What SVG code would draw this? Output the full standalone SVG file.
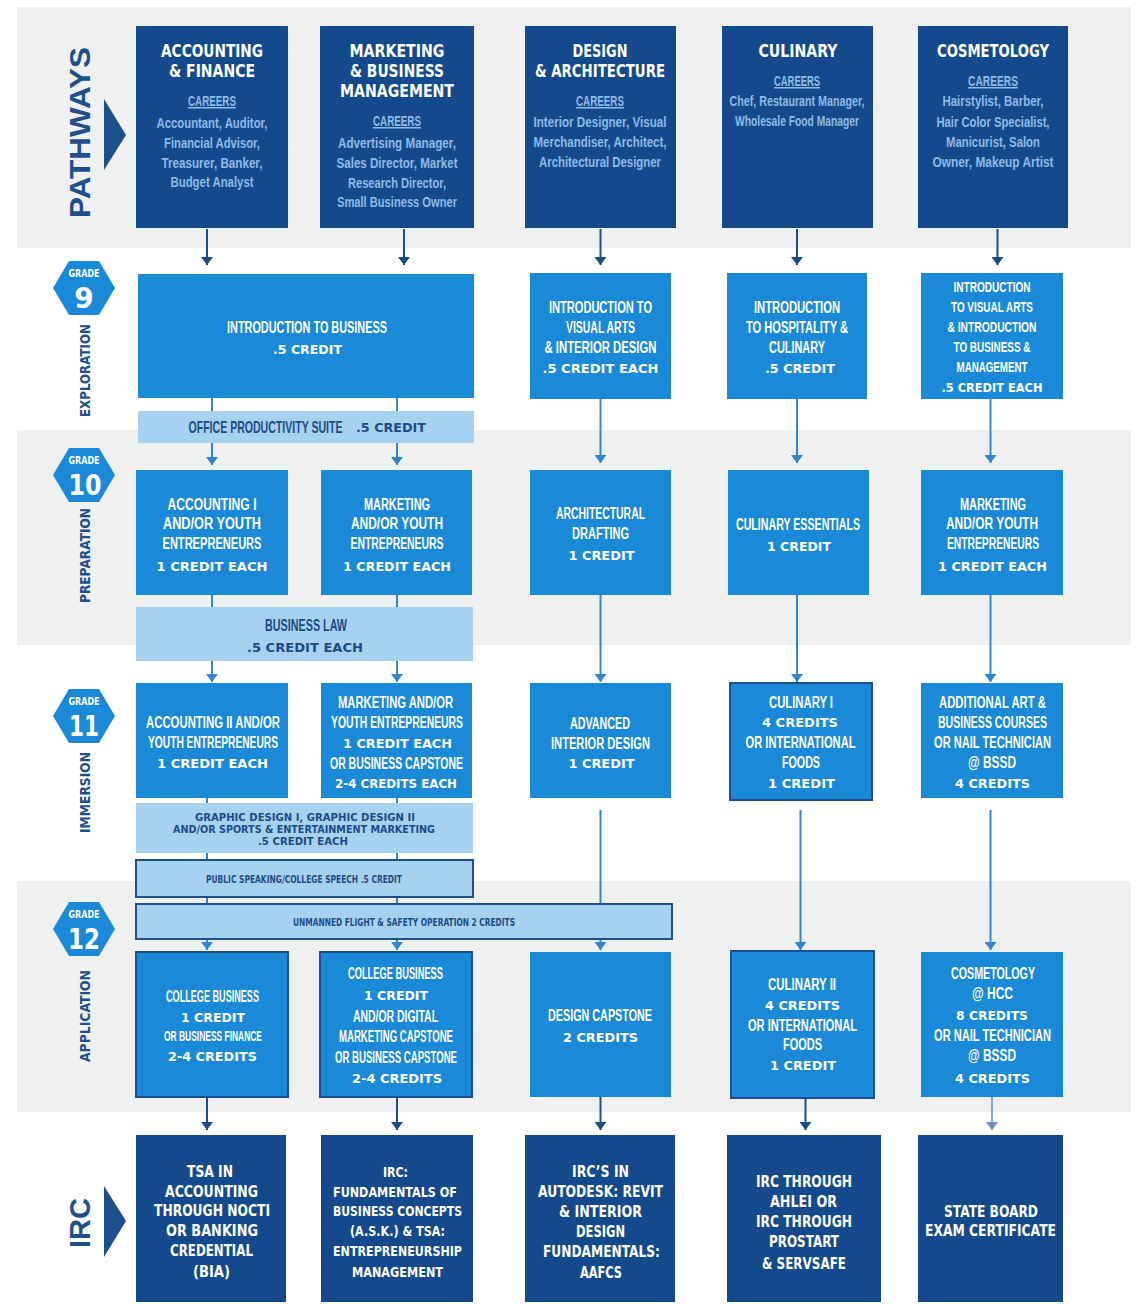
<svg xmlns="http://www.w3.org/2000/svg" width="1139" height="1304" viewBox="0 0 1139 1304">
<defs>
<style>
text{text-anchor:middle}
.band{fill:#eff1f1}
.dk{fill:#144a8b}
.md{fill:#1a8ad8}
.lt{fill:#a6d2ef}
.bd{stroke:#1d4e8e;stroke-width:2}
.t{font-family:"DejaVu Sans","Liberation Sans",sans-serif;font-weight:bold;font-size:18px;fill:#fff}
.car{font-family:"Liberation Sans",Arial,sans-serif;font-weight:bold;font-size:15px;fill:#8fbbe7;text-decoration:underline}
.cr{font-family:"Liberation Sans",Arial,sans-serif;font-weight:bold;font-size:15px;fill:#8fbbe7}
.c{font-family:"Liberation Sans",Arial,sans-serif;font-weight:bold;font-size:16px;fill:#fff}
.cs{font-family:"Liberation Sans",Arial,sans-serif;font-weight:bold;font-size:14px;fill:#fff}
.k{font-family:"DejaVu Sans","Liberation Sans",sans-serif;font-weight:bold;font-size:13px;fill:#fff}
.cd{font-family:"Liberation Sans",Arial,sans-serif;font-weight:bold;font-size:16px;fill:#1b4a88}
.kd{font-family:"DejaVu Sans","Liberation Sans",sans-serif;font-weight:bold;font-size:13px;fill:#1b4a88}
.sd{font-family:"DejaVu Sans","Liberation Sans",sans-serif;font-weight:bold;font-size:11px;fill:#1b4a88}
.irc{font-family:"DejaVu Sans","Liberation Sans",sans-serif;font-weight:bold;font-size:16px;fill:#fff}
.irs{font-family:"DejaVu Sans","Liberation Sans",sans-serif;font-weight:bold;font-size:14px;fill:#fff}
.big{font-family:"Liberation Sans",Arial,sans-serif;font-weight:bold;font-size:30px;fill:#1d4f8c}
.side{font-family:"DejaVu Sans","Liberation Sans",sans-serif;font-weight:bold;font-size:14px;fill:#1d4f8c}
.hex{fill:#1a8ad8}
.gr{font-family:"DejaVu Sans","Liberation Sans",sans-serif;font-weight:bold;font-size:11px;fill:#fff}
.num{font-family:"DejaVu Sans","Liberation Sans",sans-serif;font-weight:bold;font-size:28px;fill:#fff}
.ld{fill:none;stroke:#1b4c8a;stroke-width:2}
.lm{fill:none;stroke:#2f86cf;stroke-width:2}
.lg{fill:none;stroke:#8aa3c6;stroke-width:2}
</style>
<marker id="ad" viewBox="0 0 8 12" refX="8" refY="6" markerWidth="8" markerHeight="12" markerUnits="userSpaceOnUse" orient="auto"><path d="M0,0 L8,6 L0,12 Z" fill="#1b4c8a"/></marker>
<marker id="am" viewBox="0 0 8 12" refX="8" refY="6" markerWidth="8" markerHeight="12" markerUnits="userSpaceOnUse" orient="auto"><path d="M0,0 L8,6 L0,12 Z" fill="#2f86cf"/></marker>
<marker id="ag" viewBox="0 0 8 12" refX="8" refY="6" markerWidth="8" markerHeight="12" markerUnits="userSpaceOnUse" orient="auto"><path d="M0,0 L8,6 L0,12 Z" fill="#6f8fbb"/></marker>
</defs>
<rect width="1139" height="1304" fill="#fff"/>
<g id="bands">
<rect class="band" x="17" y="7" width="1114" height="241"/>
<rect class="band" x="17" y="430" width="1114" height="215"/>
<rect class="band" x="17" y="881" width="1114" height="231"/>
</g>
<g id="connectors">
<path class="ld" marker-end="url(#ad)" d="M207,229 V265"/>
<path class="ld" marker-end="url(#ad)" d="M404,229 V265"/>
<path class="ld" marker-end="url(#ad)" d="M600.5,229 V265"/>
<path class="ld" marker-end="url(#ad)" d="M797,229 V265"/>
<path class="ld" marker-end="url(#ad)" d="M997.5,229 V265"/>
<path class="lm" marker-end="url(#am)" d="M212,398 V465"/>
<path class="lm" marker-end="url(#am)" d="M397,398 V465"/>
<path class="lm" marker-end="url(#am)" d="M600.5,399 V463"/>
<path class="lm" marker-end="url(#am)" d="M797,399 V463"/>
<path class="lm" marker-end="url(#am)" d="M990.5,399 V463"/>
<path class="lm" marker-end="url(#am)" d="M212,595 V682"/>
<path class="lm" marker-end="url(#am)" d="M397,595 V682"/>
<path class="lm" marker-end="url(#am)" d="M600.5,595 V682"/>
<path class="lm" marker-end="url(#am)" d="M797,595 V682"/>
<path class="lm" marker-end="url(#am)" d="M990.5,595 V682"/>
<path class="lm" marker-end="url(#am)" d="M207,798 V950"/>
<path class="lm" marker-end="url(#am)" d="M397,798 V950"/>
<path class="lm" marker-end="url(#am)" d="M600.5,810 V950"/>
<path class="lm" marker-end="url(#am)" d="M800.5,810 V950"/>
<path class="lm" marker-end="url(#am)" d="M990.5,810 V950"/>
<path class="ld" marker-end="url(#ad)" d="M207,1097 V1130"/>
<path class="ld" marker-end="url(#ad)" d="M397,1097 V1130"/>
<path class="ld" marker-end="url(#ad)" d="M600.5,1097 V1130"/>
<path class="ld" marker-end="url(#ad)" d="M805.5,1098 V1130"/>
<path class="lg" marker-end="url(#ag)" d="M992,1097 V1130"/>
</g>
<g id="labels">
<text class="big" transform="translate(90,132.5) rotate(-90)" textLength="171" lengthAdjust="spacingAndGlyphs">PATHWAYS</text>
<polygon points="104,99 126,135 104,170" fill="#1d4f8c"/>
<text class="big" transform="translate(90,1223) rotate(-90)" textLength="50" lengthAdjust="spacingAndGlyphs">IRC</text>
<polygon points="104,1186 126,1221 104,1257" fill="#1d4f8c"/>
<text class="side" transform="translate(90,370.5) rotate(-90)" textLength="93" lengthAdjust="spacingAndGlyphs">EXPLORATION</text>
<text class="side" transform="translate(90,555.5) rotate(-90)" textLength="95" lengthAdjust="spacingAndGlyphs">PREPARATION</text>
<text class="side" transform="translate(90,792.5) rotate(-90)" textLength="81" lengthAdjust="spacingAndGlyphs">IMMERSION</text>
<text class="side" transform="translate(90,1016) rotate(-90)" textLength="92" lengthAdjust="spacingAndGlyphs">APPLICATION</text>
</g>
<g id="grade9"><polygon class="hex" points="53,288 69,261 99,261 115,288 99,315 69,315"/><text class="gr" x="84" y="277" textLength="31" lengthAdjust="spacingAndGlyphs">GRADE</text><text class="num" x="84" y="308">9</text></g>
<g id="grade10"><polygon class="hex" points="53,475 69,448 99,448 115,475 99,502 69,502"/><text class="gr" x="84" y="464" textLength="31" lengthAdjust="spacingAndGlyphs">GRADE</text><text class="num" x="85" y="495" textLength="33" lengthAdjust="spacingAndGlyphs">10</text></g>
<g id="grade11"><polygon class="hex" points="53,716 69,689 99,689 115,716 99,743 69,743"/><text class="gr" x="84" y="705" textLength="31" lengthAdjust="spacingAndGlyphs">GRADE</text><text class="num" x="84" y="736" textLength="30" lengthAdjust="spacingAndGlyphs">11</text></g>
<g id="grade12"><polygon class="hex" points="53,929 69,902 99,902 115,929 99,956 69,956"/><text class="gr" x="84" y="918" textLength="31" lengthAdjust="spacingAndGlyphs">GRADE</text><text class="num" x="84" y="949" textLength="32" lengthAdjust="spacingAndGlyphs">12</text></g>

<g id="p-acc"><rect class="dk" x="136" y="26" width="152" height="202"/>
<text class="t" x="212" y="57" textLength="102" lengthAdjust="spacingAndGlyphs">ACCOUNTING</text>
<text class="t" x="212" y="77" textLength="86" lengthAdjust="spacingAndGlyphs">&amp; FINANCE</text>
<text class="car" x="212" y="106" textLength="48" lengthAdjust="spacingAndGlyphs">CAREERS</text>
<text class="cr" x="212" y="128" textLength="111" lengthAdjust="spacingAndGlyphs">Accountant, Auditor,</text>
<text class="cr" x="212" y="148" textLength="96" lengthAdjust="spacingAndGlyphs">Financial Advisor,</text>
<text class="cr" x="212" y="168" textLength="101" lengthAdjust="spacingAndGlyphs">Treasurer, Banker,</text>
<text class="cr" x="212" y="187" textLength="83" lengthAdjust="spacingAndGlyphs">Budget Analyst</text></g>
<g id="p-mkt"><rect class="dk" x="320" y="26" width="154" height="202"/>
<text class="t" x="397" y="57" textLength="95" lengthAdjust="spacingAndGlyphs">MARKETING</text>
<text class="t" x="397" y="77" textLength="94" lengthAdjust="spacingAndGlyphs">&amp; BUSINESS</text>
<text class="t" x="397" y="97" textLength="114" lengthAdjust="spacingAndGlyphs">MANAGEMENT</text>
<text class="car" x="397" y="126" textLength="48" lengthAdjust="spacingAndGlyphs">CAREERS</text>
<text class="cr" x="397" y="148" textLength="118" lengthAdjust="spacingAndGlyphs">Advertising Manager,</text>
<text class="cr" x="397" y="168" textLength="121" lengthAdjust="spacingAndGlyphs">Sales Director, Market</text>
<text class="cr" x="397" y="188" textLength="98" lengthAdjust="spacingAndGlyphs">Research Director,</text>
<text class="cr" x="397" y="207" textLength="120" lengthAdjust="spacingAndGlyphs">Small Business Owner</text></g>
<g id="p-des"><rect class="dk" x="525" y="26" width="151" height="202"/>
<text class="t" x="600" y="57" textLength="55" lengthAdjust="spacingAndGlyphs">DESIGN</text>
<text class="t" x="600" y="77" textLength="130" lengthAdjust="spacingAndGlyphs">&amp; ARCHITECTURE</text>
<text class="car" x="600" y="106" textLength="48" lengthAdjust="spacingAndGlyphs">CAREERS</text>
<text class="cr" x="600" y="127" textLength="133" lengthAdjust="spacingAndGlyphs">Interior Designer, Visual</text>
<text class="cr" x="600" y="147" textLength="133" lengthAdjust="spacingAndGlyphs">Merchandiser, Architect,</text>
<text class="cr" x="600" y="167" textLength="122" lengthAdjust="spacingAndGlyphs">Architectural Designer</text></g>
<g id="p-cul"><rect class="dk" x="722" y="26" width="151" height="202"/>
<text class="t" x="798" y="57" textLength="79" lengthAdjust="spacingAndGlyphs">CULINARY</text>
<text class="car" x="797" y="86" textLength="46" lengthAdjust="spacingAndGlyphs">CAREERS</text>
<text class="cr" x="797" y="106" textLength="135" lengthAdjust="spacingAndGlyphs">Chef, Restaurant Manager,</text>
<text class="cr" x="797" y="126" textLength="124" lengthAdjust="spacingAndGlyphs">Wholesale Food Manager</text></g>
<g id="p-cos"><rect class="dk" x="918" y="26" width="150" height="202"/>
<text class="t" x="993" y="57" textLength="112" lengthAdjust="spacingAndGlyphs">COSMETOLOGY</text>
<text class="car" x="993" y="86" textLength="50" lengthAdjust="spacingAndGlyphs">CAREERS</text>
<text class="cr" x="993" y="106" textLength="101" lengthAdjust="spacingAndGlyphs">Hairstylist, Barber,</text>
<text class="cr" x="993" y="127" textLength="113" lengthAdjust="spacingAndGlyphs">Hair Color Specialist,</text>
<text class="cr" x="993" y="147" textLength="94" lengthAdjust="spacingAndGlyphs">Manicurist, Salon</text>
<text class="cr" x="993" y="167" textLength="121" lengthAdjust="spacingAndGlyphs">Owner, Makeup Artist</text></g>

<g id="g9-bus"><rect class="md" x="138" y="274" width="336" height="124"/>
<text class="c" x="307" y="333" textLength="160" lengthAdjust="spacingAndGlyphs">INTRODUCTION TO BUSINESS</text>
<text class="k" x="307.5" y="354" textLength="69" lengthAdjust="spacingAndGlyphs">.5 CREDIT</text></g>
<g id="g9-office"><rect class="lt" x="138" y="411" width="336" height="32"/>
<text class="cd" transform="translate(265.5,433) scale(0.66,1)">OFFICE PRODUCTIVITY SUITE</text>
<text class="kd" x="391" y="432" textLength="70" lengthAdjust="spacingAndGlyphs">.5 CREDIT</text></g>
<g id="g9-des"><rect class="md" x="530" y="273" width="141" height="126"/>
<text class="c" x="600.5" y="313" textLength="103" lengthAdjust="spacingAndGlyphs">INTRODUCTION TO</text>
<text class="c" x="600.5" y="333" textLength="69" lengthAdjust="spacingAndGlyphs">VISUAL ARTS</text>
<text class="c" x="600.5" y="353" textLength="112" lengthAdjust="spacingAndGlyphs">&amp; INTERIOR DESIGN</text>
<text class="k" x="600.5" y="373" textLength="116" lengthAdjust="spacingAndGlyphs">.5 CREDIT EACH</text></g>
<g id="g9-cul"><rect class="md" x="727" y="273" width="140" height="126"/>
<text class="c" x="797" y="313" textLength="86" lengthAdjust="spacingAndGlyphs">INTRODUCTION</text>
<text class="c" x="797" y="333" textLength="102" lengthAdjust="spacingAndGlyphs">TO HOSPITALITY &amp;</text>
<text class="c" x="797" y="353" textLength="56" lengthAdjust="spacingAndGlyphs">CULINARY</text>
<text class="k" x="800" y="373" textLength="70" lengthAdjust="spacingAndGlyphs">.5 CREDIT</text></g>
<g id="g9-cos"><rect class="md" x="921" y="273" width="142" height="126"/>
<text class="cs" x="992" y="292" textLength="77" lengthAdjust="spacingAndGlyphs">INTRODUCTION</text>
<text class="cs" x="992" y="312" textLength="82" lengthAdjust="spacingAndGlyphs">TO VISUAL ARTS</text>
<text class="cs" x="992" y="332" textLength="89" lengthAdjust="spacingAndGlyphs">&amp; INTRODUCTION</text>
<text class="cs" x="992" y="352" textLength="77" lengthAdjust="spacingAndGlyphs">TO BUSINESS &amp;</text>
<text class="cs" x="992" y="372" textLength="71" lengthAdjust="spacingAndGlyphs">MANAGEMENT</text>
<text class="k" x="992" y="392" textLength="101" lengthAdjust="spacingAndGlyphs">.5 CREDIT EACH</text></g>

<g id="g10-acc"><rect class="md" x="136" y="470" width="152" height="125"/>
<text class="c" x="212" y="510" textLength="89" lengthAdjust="spacingAndGlyphs">ACCOUNTING I</text>
<text class="c" x="212" y="529" textLength="98" lengthAdjust="spacingAndGlyphs">AND/OR YOUTH</text>
<text class="c" x="212" y="549" textLength="99" lengthAdjust="spacingAndGlyphs">ENTREPRENEURS</text>
<text class="k" x="212" y="571" textLength="111" lengthAdjust="spacingAndGlyphs">1 CREDIT EACH</text></g>
<g id="g10-mkt"><rect class="md" x="321" y="470" width="151" height="125"/>
<text class="c" x="397" y="510" textLength="66" lengthAdjust="spacingAndGlyphs">MARKETING</text>
<text class="c" x="397" y="529" textLength="92" lengthAdjust="spacingAndGlyphs">AND/OR YOUTH</text>
<text class="c" x="397" y="549" textLength="93" lengthAdjust="spacingAndGlyphs">ENTREPRENEURS</text>
<text class="k" x="397" y="571" textLength="108" lengthAdjust="spacingAndGlyphs">1 CREDIT EACH</text></g>
<g id="g10-law"><rect class="lt" x="136" y="607" width="337" height="54"/>
<text class="cd" x="306" y="631" textLength="82" lengthAdjust="spacingAndGlyphs">BUSINESS LAW</text>
<text class="kd" x="305" y="652" textLength="116" lengthAdjust="spacingAndGlyphs">.5 CREDIT EACH</text></g>
<g id="g10-des"><rect class="md" x="530" y="470" width="141" height="125"/>
<text class="c" x="600.5" y="519" textLength="89" lengthAdjust="spacingAndGlyphs">ARCHITECTURAL</text>
<text class="c" x="600.5" y="539" textLength="57" lengthAdjust="spacingAndGlyphs">DRAFTING</text>
<text class="k" x="601.5" y="560" textLength="66" lengthAdjust="spacingAndGlyphs">1 CREDIT</text></g>
<g id="g10-cul"><rect class="md" x="728" y="470" width="141" height="125"/>
<text class="c" x="798" y="530" textLength="124" lengthAdjust="spacingAndGlyphs">CULINARY ESSENTIALS</text>
<text class="k" x="799" y="551" textLength="64" lengthAdjust="spacingAndGlyphs">1 CREDIT</text></g>
<g id="g10-cos"><rect class="md" x="921" y="470" width="142" height="125"/>
<text class="c" x="993" y="510" textLength="66" lengthAdjust="spacingAndGlyphs">MARKETING</text>
<text class="c" x="992" y="529" textLength="92" lengthAdjust="spacingAndGlyphs">AND/OR YOUTH</text>
<text class="c" x="993" y="549" textLength="92" lengthAdjust="spacingAndGlyphs">ENTREPRENEURS</text>
<text class="k" x="992.5" y="571" textLength="109" lengthAdjust="spacingAndGlyphs">1 CREDIT EACH</text></g>

<g id="g11-acc"><rect class="md" x="136" y="683" width="152" height="115"/>
<text class="c" x="213" y="728" textLength="134" lengthAdjust="spacingAndGlyphs">ACCOUNTING II AND/OR</text>
<text class="c" x="213" y="748" textLength="130" lengthAdjust="spacingAndGlyphs">YOUTH ENTREPRENEURS</text>
<text class="k" x="212.5" y="768" textLength="111" lengthAdjust="spacingAndGlyphs">1 CREDIT EACH</text></g>
<g id="g11-mkt"><rect class="md" x="321" y="683" width="151" height="115"/>
<text class="c" x="395.5" y="708" textLength="115" lengthAdjust="spacingAndGlyphs">MARKETING AND/OR</text>
<text class="c" x="397" y="728" textLength="132" lengthAdjust="spacingAndGlyphs">YOUTH ENTREPRENEURS</text>
<text class="k" x="397.5" y="748" textLength="109" lengthAdjust="spacingAndGlyphs">1 CREDIT EACH</text>
<text class="c" x="396.5" y="769" textLength="133" lengthAdjust="spacingAndGlyphs">OR BUSINESS CAPSTONE</text>
<text class="k" x="396" y="788" textLength="122" lengthAdjust="spacingAndGlyphs">2-4 CREDITS EACH</text></g>
<g id="g11-graphic"><rect class="lt" x="136" y="803" width="337" height="50"/>
<text class="sd" x="305" y="821" textLength="220" lengthAdjust="spacingAndGlyphs">GRAPHIC DESIGN I, GRAPHIC DESIGN II</text>
<text class="sd" x="304" y="833" textLength="262" lengthAdjust="spacingAndGlyphs">AND/OR SPORTS &amp; ENTERTAINMENT MARKETING</text>
<text class="sd" x="303" y="845" font-size="9" textLength="90" lengthAdjust="spacingAndGlyphs">.5 CREDIT EACH</text></g>
<g id="g11-speech"><rect class="lt bd" x="136" y="860" width="337" height="37"/>
<text class="sd" x="304" y="883" font-size="12" textLength="196" lengthAdjust="spacingAndGlyphs">PUBLIC SPEAKING/COLLEGE SPEECH .5 CREDIT</text></g>
<g id="g11-des"><rect class="md" x="530" y="683" width="141" height="115"/>
<text class="c" x="600" y="729" textLength="60" lengthAdjust="spacingAndGlyphs">ADVANCED</text>
<text class="c" x="600.5" y="749" textLength="99" lengthAdjust="spacingAndGlyphs">INTERIOR DESIGN</text>
<text class="k" x="601.5" y="768" textLength="66" lengthAdjust="spacingAndGlyphs">1 CREDIT</text></g>
<g id="g11-cul"><rect class="md bd" x="730" y="683" width="142" height="117"/>
<text class="c" x="801" y="708" textLength="64" lengthAdjust="spacingAndGlyphs">CULINARY I</text>
<text class="k" x="800" y="727" textLength="76" lengthAdjust="spacingAndGlyphs">4 CREDITS</text>
<text class="c" x="800.5" y="748" textLength="110" lengthAdjust="spacingAndGlyphs">OR INTERNATIONAL</text>
<text class="c" x="801" y="768" textLength="38" lengthAdjust="spacingAndGlyphs">FOODS</text>
<text class="k" x="801.5" y="788" textLength="67" lengthAdjust="spacingAndGlyphs">1 CREDIT</text></g>
<g id="g11-cos"><rect class="md" x="921" y="683" width="142" height="115"/>
<text class="c" x="992.5" y="708" textLength="107" lengthAdjust="spacingAndGlyphs">ADDITIONAL ART &amp;</text>
<text class="c" x="992.5" y="728" textLength="109" lengthAdjust="spacingAndGlyphs">BUSINESS COURSES</text>
<text class="c" x="992.5" y="748" textLength="117" lengthAdjust="spacingAndGlyphs">OR NAIL TECHNICIAN</text>
<text class="c" x="992" y="768" textLength="48" lengthAdjust="spacingAndGlyphs">@ BSSD</text>
<text class="k" x="992.5" y="788" textLength="75" lengthAdjust="spacingAndGlyphs">4 CREDITS</text></g>

<g id="g12-flight"><rect class="lt bd" x="136" y="904" width="536" height="35"/>
<text class="sd" x="404" y="926" font-size="12" textLength="222" lengthAdjust="spacingAndGlyphs">UNMANNED FLIGHT &amp; SAFETY OPERATION 2 CREDITS</text></g>
<g id="g12-acc"><rect class="md bd" x="136" y="952" width="152" height="145"/>
<text class="c" x="212.5" y="1002" textLength="93" lengthAdjust="spacingAndGlyphs">COLLEGE BUSINESS</text>
<text class="k" x="213" y="1022" textLength="64" lengthAdjust="spacingAndGlyphs">1 CREDIT</text>
<text class="cs" x="213" y="1041" font-size="12" textLength="98" lengthAdjust="spacingAndGlyphs">OR BUSINESS FINANCE</text>
<text class="k" x="212.5" y="1061" textLength="89" lengthAdjust="spacingAndGlyphs">2-4 CREDITS</text></g>
<g id="g12-mkt"><rect class="md bd" x="320" y="952" width="152" height="145"/>
<text class="c" x="395.5" y="979" textLength="95" lengthAdjust="spacingAndGlyphs">COLLEGE BUSINESS</text>
<text class="k" x="396" y="1000" textLength="64" lengthAdjust="spacingAndGlyphs">1 CREDIT</text>
<text class="c" x="395.5" y="1022" textLength="85" lengthAdjust="spacingAndGlyphs">AND/OR DIGITAL</text>
<text class="c" x="396" y="1042" textLength="114" lengthAdjust="spacingAndGlyphs">MARKETING CAPSTONE</text>
<text class="c" x="396" y="1063" textLength="122" lengthAdjust="spacingAndGlyphs">OR BUSINESS CAPSTONE</text>
<text class="k" x="397" y="1083" textLength="90" lengthAdjust="spacingAndGlyphs">2-4 CREDITS</text></g>
<g id="g12-des"><rect class="md" x="530" y="952" width="141" height="145"/>
<text class="c" x="600" y="1021" textLength="104" lengthAdjust="spacingAndGlyphs">DESIGN CAPSTONE</text>
<text class="k" x="600.5" y="1042" textLength="75" lengthAdjust="spacingAndGlyphs">2 CREDITS</text></g>
<g id="g12-cul"><rect class="md bd" x="731" y="951" width="143" height="147"/>
<text class="c" x="802" y="990" textLength="68" lengthAdjust="spacingAndGlyphs">CULINARY II</text>
<text class="k" x="802.5" y="1010" textLength="75" lengthAdjust="spacingAndGlyphs">4 CREDITS</text>
<text class="c" x="802.5" y="1031" textLength="109" lengthAdjust="spacingAndGlyphs">OR INTERNATIONAL</text>
<text class="c" x="802.5" y="1050" textLength="39" lengthAdjust="spacingAndGlyphs">FOODS</text>
<text class="k" x="803" y="1070" textLength="66" lengthAdjust="spacingAndGlyphs">1 CREDIT</text></g>
<g id="g12-cos"><rect class="md" x="921" y="952" width="142" height="145"/>
<text class="c" x="993" y="979" textLength="84" lengthAdjust="spacingAndGlyphs">COSMETOLOGY</text>
<text class="c" x="992.5" y="999" textLength="41" lengthAdjust="spacingAndGlyphs">@ HCC</text>
<text class="k" x="992" y="1020" textLength="72" lengthAdjust="spacingAndGlyphs">8 CREDITS</text>
<text class="c" x="992.5" y="1041" textLength="117" lengthAdjust="spacingAndGlyphs">OR NAIL TECHNICIAN</text>
<text class="c" x="992" y="1061" textLength="48" lengthAdjust="spacingAndGlyphs">@ BSSD</text>
<text class="k" x="992.5" y="1083" textLength="75" lengthAdjust="spacingAndGlyphs">4 CREDITS</text></g>

<g id="irc-acc"><rect class="dk" x="136" y="1135" width="150" height="167"/>
<text class="irc" x="210" y="1177" textLength="46" lengthAdjust="spacingAndGlyphs">TSA IN</text>
<text class="irc" x="211.5" y="1197" textLength="93" lengthAdjust="spacingAndGlyphs">ACCOUNTING</text>
<text class="irc" x="212" y="1216" textLength="116" lengthAdjust="spacingAndGlyphs">THROUGH NOCTI</text>
<text class="irc" x="212" y="1236" textLength="92" lengthAdjust="spacingAndGlyphs">OR BANKING</text>
<text class="irc" x="211.5" y="1256" textLength="83" lengthAdjust="spacingAndGlyphs">CREDENTIAL</text>
<text class="irc" x="211.5" y="1277" textLength="37" lengthAdjust="spacingAndGlyphs">(BIA)</text></g>
<g id="irc-mkt"><rect class="dk" x="321" y="1135" width="152" height="167"/>
<text class="irs" x="395.5" y="1177" textLength="25" lengthAdjust="spacingAndGlyphs">IRC:</text>
<text class="irs" x="395" y="1197" textLength="124" lengthAdjust="spacingAndGlyphs">FUNDAMENTALS OF</text>
<text class="irs" x="397.5" y="1216" textLength="129" lengthAdjust="spacingAndGlyphs">BUSINESS CONCEPTS</text>
<text class="irs" x="397.5" y="1236" textLength="95" lengthAdjust="spacingAndGlyphs">(A.S.K.) &amp; TSA:</text>
<text class="irs" x="397.5" y="1256" textLength="129" lengthAdjust="spacingAndGlyphs">ENTREPRENEURSHIP</text>
<text class="irs" x="397.5" y="1277" textLength="91" lengthAdjust="spacingAndGlyphs">MANAGEMENT</text></g>
<g id="irc-des"><rect class="dk" x="525" y="1135" width="150" height="167"/>
<text class="irc" x="600.5" y="1177" textLength="57" lengthAdjust="spacingAndGlyphs">IRC’S IN</text>
<text class="irc" x="600.5" y="1197" textLength="125" lengthAdjust="spacingAndGlyphs">AUTODESK: REVIT</text>
<text class="irc" x="600.5" y="1217" textLength="83" lengthAdjust="spacingAndGlyphs">&amp; INTERIOR</text>
<text class="irc" x="600.5" y="1237" textLength="49" lengthAdjust="spacingAndGlyphs">DESIGN</text>
<text class="irc" x="601.5" y="1257" textLength="117" lengthAdjust="spacingAndGlyphs">FUNDAMENTALS:</text>
<text class="irc" x="601" y="1278" textLength="42" lengthAdjust="spacingAndGlyphs">AAFCS</text></g>
<g id="irc-cul"><rect class="dk" x="727" y="1135" width="154" height="167"/>
<text class="irc" x="804" y="1187" textLength="96" lengthAdjust="spacingAndGlyphs">IRC THROUGH</text>
<text class="irc" x="803.5" y="1207" textLength="67" lengthAdjust="spacingAndGlyphs">AHLEI OR</text>
<text class="irc" x="804" y="1227" textLength="96" lengthAdjust="spacingAndGlyphs">IRC THROUGH</text>
<text class="irc" x="804" y="1247" textLength="70" lengthAdjust="spacingAndGlyphs">PROSTART</text>
<text class="irc" x="804" y="1269" textLength="84" lengthAdjust="spacingAndGlyphs">&amp; SERVSAFE</text></g>
<g id="irc-cos"><rect class="dk" x="918" y="1135" width="145" height="167"/>
<text class="irc" x="991" y="1217" textLength="94" lengthAdjust="spacingAndGlyphs">STATE BOARD</text>
<text class="irc" x="990.5" y="1236" textLength="131" lengthAdjust="spacingAndGlyphs">EXAM CERTIFICATE</text></g>
</svg>
